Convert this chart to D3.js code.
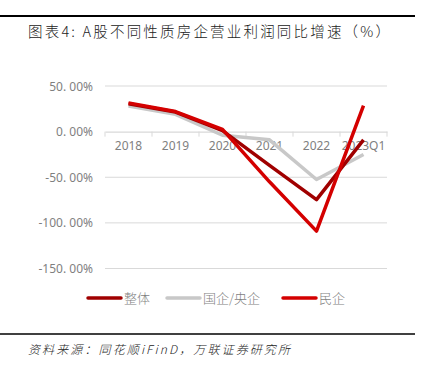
<!DOCTYPE html>
<html>
<head>
<meta charset="utf-8">
<script src="https://cdn.jsdelivr.net/npm/d3@7"></script>
<style>
body{margin:0;background:#fff;}
svg{display:block;}
</style>
</head>
<body>
<svg width="437" height="367"></svg>
<script>
"use strict";

var categories=["2018","2019","2020","2021","2022","2023Q1"];
var overall=[30.5,21.5,1,-37,-74.5,-9];
var stateOwned=[28,19,-4,-9,-52.5,-25];
var privateOwned=[31.5,22,2.5,-55,-109,28.5];
var yTicks=[50,0,-50,-100,-150];
var seriesNames=["整体","国企/央企","民企"];
var seriesColors=["#A00000","#C8C8C8","#D40000"];

var svg=d3.select("svg");
var fontCJK="'Noto Sans CJK SC', sans-serif";

// top & bottom rules
svg.append("line").attr("x1",0).attr("x2",415).attr("y1",16).attr("y2",16)
	.attr("stroke","#000").attr("stroke-width",2);
svg.append("line").attr("x1",0).attr("x2",415).attr("y1",334).attr("y2",334)
	.attr("stroke","#000").attr("stroke-width",1.5);

svg.append("text").attr("x",28).attr("y",37)
	.attr("textLength",362).attr("lengthAdjust","spacing")
	.style("font-family",fontCJK).style("font-size","14.5px").style("font-weight","300").style("fill","#222")
	.text("图表4:  A股不同性质房企营业利润同比增速（%）");

svg.append("text").attr("x",28).attr("y",354)
	.attr("textLength",262).attr("lengthAdjust","spacing")
	.style("font-family",fontCJK).style("font-size","12px").style("font-style","italic").style("font-weight","300").style("fill","#222")
	.text("资料来源：同花顺iFinD，万联证券研究所");

var xScale=d3.scaleBand().domain(categories).range([105,387]);
var yScale=d3.scaleLinear().domain([-150,50]).range([268.5,86]);

// gridlines
svg.append("g")
	.selectAll("line.grid")
	.data(yTicks.filter(function(d){return d!==0;}))
	.enter()
	.append("line")
	.attr("class","grid")
	.attr("x1",105).attr("x2",387)
	.attr("y1",function(d){return yScale(d);})
	.attr("y2",function(d){return yScale(d);})
	.attr("stroke","#D9D9D9").attr("stroke-width",1);

// y labels
svg.append("g")
	.selectAll("text.ylab")
	.data(yTicks)
	.enter()
	.append("text")
	.attr("class","ylab")
	.attr("x",93)
	.attr("y",function(d){return yScale(d)+4.5;})
	.attr("text-anchor","end")
	.style("font-family","'Noto Sans', sans-serif")
	.style("font-size","12px")
	.style("fill","#7F7F7F")
	.text(function(d){return d3.format(".2f")(d).replace("−","-").replace(".",". ")+"%";});

// x axis on zero
var xAxisG=svg.append("g")
	.attr("transform","translate(0,"+yScale(0)+")")
	.call(d3.axisBottom(xScale).tickSize(0).tickPadding(10));
xAxisG.select(".domain").attr("stroke","#D9D9D9").attr("stroke-width",1.2);
xAxisG.selectAll("text")
	.style("font-family","'Noto Sans', sans-serif")
	.style("font-size","12px")
	.style("fill","#7F7F7F");
var bounds=categories.map(function(c){return xScale(c);}).concat([xScale.range()[1]]);
xAxisG.selectAll("line.bound")
	.data(bounds)
	.enter()
	.append("line")
	.attr("class","bound")
	.attr("x1",function(d){return d;}).attr("x2",function(d){return d;})
	.attr("y1",0).attr("y2",5)
	.attr("stroke","#D9D9D9").attr("stroke-width",1);

var line=d3.line()
	.x(function(d,i){return xScale(categories[i])+xScale.bandwidth()/2;})
	.y(function(d){return yScale(d);});

var allSeries=[overall,stateOwned,privateOwned];
[1,0,2].forEach(function(k){
	svg.append("path")
		.attr("d",line(allSeries[k]))
		.attr("fill","none")
		.attr("stroke",seriesColors[k])
		.attr("stroke-width",3.5)
		.attr("stroke-linejoin","round");
});

// legend
var legendX=[88,167,283];
var legend=svg.append("g");
seriesNames.forEach(function(name,k){
	legend.append("line")
		.attr("x1",legendX[k]).attr("x2",legendX[k]+33)
		.attr("y1",298).attr("y2",298)
		.attr("stroke",seriesColors[k]).attr("stroke-width",3.5).attr("stroke-linecap","round");
	legend.append("text")
		.attr("x",legendX[k]+36).attr("y",303)
		.style("font-family",fontCJK).style("font-size","13px").style("font-weight","300").style("fill","#7F7F7F")
		.text(name);
});
</script>
</body>
</html>
